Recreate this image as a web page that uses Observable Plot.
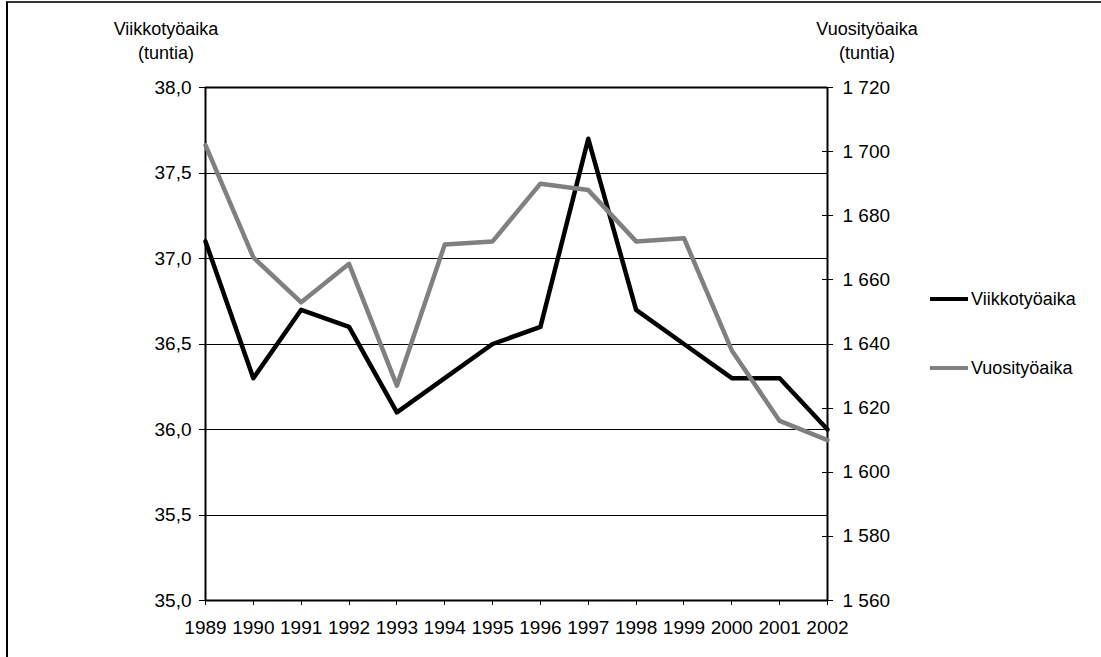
<!DOCTYPE html>
<html>
<head>
<meta charset="utf-8">
<script src="https://cdn.jsdelivr.net/npm/d3@7"></script>
<script src="https://cdn.jsdelivr.net/npm/@observablehq/plot@0.6"></script>
<style>
html,body{margin:0;padding:0;background:#fff;overflow:hidden;}
#wrap{position:relative;width:1101px;height:657px;font-family:"Liberation Sans",Arial,sans-serif;color:#000;}
#frame{position:absolute;left:6px;top:1px;width:1200px;height:800px;border-left:2px solid #000;border-top:2px solid #333;box-sizing:border-box;}
#chart{position:absolute;left:0;top:0;}
.lbl{position:absolute;font-size:18px;line-height:24px;text-align:center;white-space:nowrap;}
.leg{position:absolute;font-size:18px;line-height:20px;white-space:nowrap;display:flex;align-items:center;}
.leg .sw{display:inline-block;width:38px;height:4px;margin-right:3px;}
</style>
</head>
<body>
<div id="wrap">
  <div id="frame"></div>
  <div id="chart"></div>
  <div class="lbl" style="left:66px;top:17px;width:200px;">Viikkotyöaika<br>(tuntia)</div>
  <div class="lbl" style="left:767px;top:17px;width:200px;">Vuosityöaika<br>(tuntia)</div>
  <div class="leg" style="left:930px;top:289px;"><span class="sw" style="background:#000"></span><span>Viikkotyöaika</span></div>
  <div class="leg" style="left:930px;top:358px;"><span class="sw" style="background:#808080"></span><span>Vuosityöaika</span></div>
</div>
<script>
// Data
const years = [1989, 1990, 1991, 1992, 1993, 1994, 1995, 1996, 1997, 1998, 1999, 2000, 2001, 2002];
const weekly = [37.1, 36.3, 36.7, 36.6, 36.1, 36.3, 36.5, 36.6, 37.7, 36.7, 36.5, 36.3, 36.3, 36.0];
const annual = [1702, 1667, 1653, 1665, 1627, 1671, 1672, 1690, 1688, 1672, 1673, 1638, 1616, 1610];
const leftTicks = [35, 35.5, 36, 36.5, 37, 37.5, 38];
const rightTicks = [1560, 1580, 1600, 1620, 1640, 1660, 1680, 1700, 1720];

// Secondary axis mapping (right domain -> left domain)
const lMin = leftTicks[0], lMax = leftTicks[leftTicks.length - 1];
const rMin = rightTicks[0], rMax = rightTicks[rightTicks.length - 1];
const toLeft = v => lMin + (v - rMin) * (lMax - lMin) / (rMax - rMin);
const fromLeft = y => Math.round(rMin + (y - lMin) * (rMax - rMin) / (lMax - lMin));

const fi = d3.formatLocale({decimal: ",", thousands: " ", grouping: [3], currency: ["", ""]});
const leftFmt = fi.format(".1f");
const rightFmt = fi.format(",d");

const weeklyData = years.map((year, i) => ({year, value: weekly[i]}));
const annualData = years.map((year, i) => ({year, value: annual[i]}));
const lastYear = years[years.length - 1];

const hline = {draw(ctx, size) { const r = Math.sqrt(size / Math.PI); ctx.moveTo(-r, 0); ctx.lineTo(r, 0); }};

const chart = Plot.plot({
  width: 1101,
  height: 657,
  marginLeft: 205,
  marginRight: 274,
  marginTop: 87,
  marginBottom: 57,
  style: {background: "transparent", fontFamily: "'Liberation Sans', Arial, sans-serif", fontSize: "19px", color: "#000", overflow: "visible"},
  x: {type: "linear", domain: [years[0], lastYear]},
  y: {domain: [lMin, lMax]},
  marks: [
    Plot.ruleY(leftTicks.slice(1, -1), {stroke: "#000", strokeWidth: 1, shapeRendering: "crispEdges"}),
    Plot.axisY({anchor: "left", ticks: leftTicks, tickFormat: leftFmt, tickSize: 6, tickPadding: 8, label: null, shapeRendering: "crispEdges"}),
    Plot.axisY({anchor: "right", ticks: rightTicks.map(toLeft), tickFormat: y => rightFmt(fromLeft(y)), tickSize: 0, tickPadding: 15, label: null}),
    Plot.dot(rightTicks, {x: () => lastYear, y: toLeft, symbol: hline, r: 5.5, stroke: "#000", strokeWidth: 1, fill: "none", shapeRendering: "crispEdges"}),
    Plot.axisX({ticks: years, tickFormat: d => String(d), tickSize: 5, tickPadding: 15, label: null, shapeRendering: "crispEdges"}),
    Plot.ruleX([years[0], lastYear], {stroke: "#000", strokeWidth: 2}),
    Plot.ruleY([lMin, lMax], {stroke: "#000", strokeWidth: 2}),
    Plot.line(weeklyData, {x: "year", y: "value", stroke: "#000", strokeWidth: 4.5, strokeLinejoin: "round"}),
    Plot.line(annualData, {x: "year", y: d => toLeft(d.value), stroke: "#808080", strokeWidth: 4.5, strokeLinejoin: "round"})
  ]
});

document.getElementById("chart").appendChild(chart);
</script>
</body>
</html>
